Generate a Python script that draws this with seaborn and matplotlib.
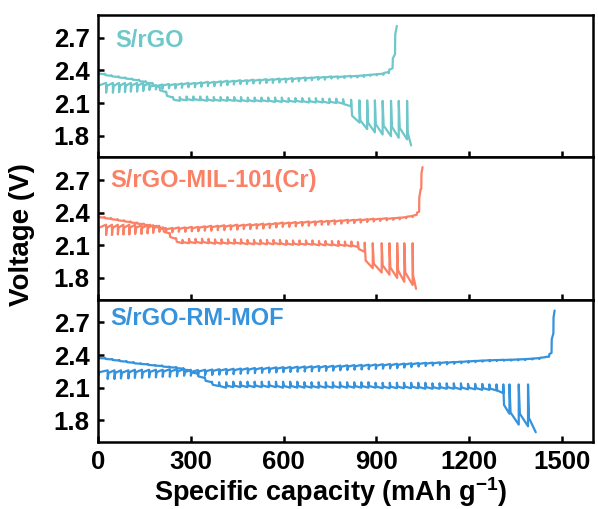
import matplotlib
matplotlib.use("Agg")
import matplotlib.pyplot as plt
import seaborn as sns

# ---------------- data ----------------
samples = ["S/rGO", "S/rGO-MIL-101(Cr)", "S/rGO-RM-MOF"]
colors = ["#6EC8CA", "#FA8066", "#3592DC"]

x_ticks = [0, 300, 600, 900, 1200, 1500]
y_ticks = [1.8, 2.1, 2.4, 2.7]

# ---- S/rGO ----
d1_start = 2.38
d1_cap = [22, 44, 66, 88, 110, 132, 154, 176, 198, 220, 242, 264, 286, 308, 330, 352, 374, 396,
          418, 440, 462, 484, 506, 528, 550, 572, 594, 616, 638, 660, 682, 704, 726, 748, 770,
          792, 818, 845, 870, 895, 920, 947, 972, 999, 1012]
d1_load = [2.365, 2.35, 2.34, 2.33, 2.32, 2.31, 2.295, 2.28, 2.25, 2.20, 2.15, 2.12, 2.125, 2.125,
           2.125, 2.12, 2.12, 2.12, 2.12, 2.12, 2.115, 2.115, 2.115, 2.115, 2.115, 2.11, 2.11, 2.11,
           2.11, 2.11, 2.105, 2.105, 2.105, 2.10, 2.10, 2.095, 2.07, 1.92, 1.86, 1.83, 1.81, 1.795,
           1.78, 1.765, 1.71]
d1_rest = [2.37, 2.355, 2.345, 2.335, 2.325, 2.315, 2.30, 2.285, 2.255, 2.205, 2.155, 2.155, 2.16,
           2.16, 2.16, 2.16, 2.155, 2.155, 2.155, 2.155, 2.155, 2.15, 2.15, 2.15, 2.15, 2.15, 2.15,
           2.145, 2.145, 2.145, 2.145, 2.145, 2.14, 2.14, 2.14, 2.135, 2.13, 2.125, 2.125, 2.125,
           2.12, 2.12, 2.12, 2.12, 1.71]

c1_start = 2.21
c1_cap = [26, 48, 68, 87, 106, 126, 146, 166, 187, 208, 229, 250, 271, 292, 313, 334, 355, 376,
          397, 418, 439, 460, 481, 502, 523, 544, 565, 586, 607, 628, 649, 670, 691, 712, 733, 754,
          775, 796, 817, 838, 859, 880, 901, 922, 940, 952, 960, 966]
c1_load = [2.285, 2.285, 2.285, 2.285, 2.285, 2.285, 2.285, 2.28, 2.265, 2.27, 2.275, 2.275, 2.28,
           2.285, 2.285, 2.29, 2.295, 2.295, 2.30, 2.305, 2.305, 2.31, 2.31, 2.315, 2.315, 2.32,
           2.32, 2.325, 2.325, 2.33, 2.33, 2.335, 2.335, 2.34, 2.34, 2.345, 2.345, 2.345, 2.35,
           2.35, 2.355, 2.36, 2.365, 2.37, 2.385, 2.42, 2.55, 2.81]
c1_rest = [2.195, 2.195, 2.20, 2.20, 2.205, 2.205, 2.21, 2.22, 2.225, 2.23, 2.235, 2.235, 2.24,
           2.245, 2.245, 2.25, 2.255, 2.255, 2.26, 2.265, 2.27, 2.275, 2.275, 2.28, 2.28, 2.285,
           2.285, 2.29, 2.29, 2.295, 2.30, 2.305, 2.31, 2.315, 2.315, 2.325, 2.325, 2.33, 2.335,
           2.335, 2.34, 2.35, 2.355, 2.36, 2.375, 2.42, 2.55, 2.81]

# ---- S/rGO-MIL-101(Cr) ----
d2_start = 2.367
d2_cap = [21, 42, 63, 84, 105, 126, 147, 168, 189, 210, 231, 252, 273, 294, 315, 336, 357, 378,
          399, 420, 441, 462, 483, 504, 525, 546, 567, 588, 609, 630, 651, 672, 693, 714, 735, 756,
          777, 798, 819, 840, 862, 888, 917, 942, 967, 990, 1017, 1028]
d2_load = [2.355, 2.345, 2.335, 2.325, 2.315, 2.305, 2.295, 2.285, 2.275, 2.26, 2.21, 2.16, 2.12,
           2.12, 2.12, 2.12, 2.12, 2.115, 2.115, 2.115, 2.115, 2.115, 2.11, 2.11, 2.11, 2.11, 2.11,
           2.11, 2.105, 2.105, 2.105, 2.105, 2.105, 2.10, 2.10, 2.10, 2.095, 2.095, 2.09, 2.085,
           2.04, 1.89, 1.85, 1.83, 1.80, 1.765, 1.735, 1.70]
d2_rest = [2.36, 2.35, 2.34, 2.33, 2.32, 2.31, 2.30, 2.29, 2.28, 2.265, 2.215, 2.165, 2.15, 2.16,
           2.16, 2.16, 2.16, 2.155, 2.155, 2.155, 2.155, 2.155, 2.15, 2.15, 2.15, 2.15, 2.15, 2.15,
           2.145, 2.145, 2.145, 2.145, 2.145, 2.14, 2.14, 2.14, 2.14, 2.135, 2.135, 2.13, 2.125,
           2.12, 2.12, 2.12, 2.12, 2.12, 2.12, 1.70]

c2_start = 2.20
c2_cap = [26, 45, 64, 82, 101, 120, 140, 160, 178, 198, 219, 240, 261, 282, 303, 324, 345, 366,
          387, 408, 429, 450, 471, 492, 513, 534, 555, 576, 597, 618, 639, 660, 681, 702, 723, 744,
          765, 786, 807, 828, 849, 870, 891, 912, 933, 954, 975, 996, 1017, 1030, 1038, 1042, 1045,
          1049]
c2_load = [2.29, 2.29, 2.29, 2.29, 2.29, 2.29, 2.285, 2.285, 2.285, 2.28, 2.26, 2.26, 2.265, 2.265,
           2.27, 2.27, 2.275, 2.28, 2.28, 2.285, 2.285, 2.29, 2.29, 2.295, 2.295, 2.30, 2.30, 2.305,
           2.31, 2.31, 2.315, 2.315, 2.32, 2.32, 2.325, 2.325, 2.33, 2.33, 2.335, 2.335, 2.34, 2.34,
           2.345, 2.345, 2.35, 2.35, 2.355, 2.36, 2.37, 2.38, 2.41, 2.60, 2.62, 2.82]
c2_rest = [2.195, 2.195, 2.20, 2.20, 2.20, 2.205, 2.205, 2.21, 2.215, 2.225, 2.22, 2.22, 2.225,
           2.225, 2.23, 2.23, 2.235, 2.235, 2.24, 2.24, 2.245, 2.245, 2.25, 2.25, 2.255, 2.255,
           2.26, 2.265, 2.27, 2.27, 2.275, 2.28, 2.28, 2.285, 2.29, 2.29, 2.295, 2.30, 2.305, 2.305,
           2.31, 2.315, 2.32, 2.325, 2.33, 2.335, 2.34, 2.35, 2.36, 2.38, 2.41, 2.60, 2.62, 2.82]

# ---- S/rGO-RM-MOF ----
d3_start = 2.376
d3_cap = [23, 46, 69, 92, 115, 138, 161, 184, 207, 230, 253, 276, 299, 322, 345, 368, 391, 414,
          437, 460, 483, 506, 529, 552, 575, 598, 621, 644, 667, 690, 713, 736, 759, 782, 805, 828,
          851, 874, 897, 920, 943, 966, 989, 1012, 1035, 1058, 1081, 1104, 1127, 1150, 1173, 1196,
          1219, 1242, 1265, 1288, 1310, 1330, 1360, 1390, 1415]
d3_load = [2.37, 2.36, 2.35, 2.34, 2.33, 2.32, 2.315, 2.305, 2.30, 2.29, 2.285, 2.275, 2.26, 2.23,
           2.19, 2.15, 2.115, 2.10, 2.105, 2.105, 2.105, 2.105, 2.105, 2.105, 2.105, 2.10, 2.10,
           2.10, 2.10, 2.10, 2.10, 2.10, 2.10, 2.10, 2.10, 2.10, 2.10, 2.10, 2.10, 2.095, 2.095,
           2.095, 2.095, 2.095, 2.095, 2.09, 2.09, 2.09, 2.09, 2.09, 2.085, 2.085, 2.085, 2.08,
           2.08, 2.075, 2.05, 1.86, 1.76, 1.745, 1.69]
d3_rest = [2.374, 2.364, 2.354, 2.344, 2.334, 2.324, 2.319, 2.309, 2.304, 2.294, 2.289, 2.279,
           2.265, 2.235, 2.195, 2.155, 2.15, 2.15, 2.155, 2.155, 2.155, 2.155, 2.155, 2.155, 2.155,
           2.155, 2.155, 2.155, 2.15, 2.15, 2.15, 2.15, 2.15, 2.15, 2.15, 2.15, 2.15, 2.15, 2.145,
           2.145, 2.145, 2.145, 2.145, 2.145, 2.145, 2.145, 2.14, 2.14, 2.14, 2.14, 2.14, 2.135,
           2.135, 2.135, 2.13, 2.13, 2.13, 2.13, 2.13, 2.13, 1.69]

c3_start = 2.20
c3_cap = [31, 53, 74, 98, 119, 142, 165, 187, 209, 232, 255, 278, 300, 323, 346, 369, 392, 415,
          438, 461, 484, 507, 530, 553, 576, 599, 622, 645, 668, 691, 714, 737, 760, 783, 806, 829,
          852, 875, 898, 921, 944, 967, 990, 1013, 1036, 1059, 1082, 1105, 1128, 1151, 1174, 1197,
          1220, 1243, 1266, 1289, 1312, 1335, 1358, 1381, 1404, 1427, 1445, 1458, 1466, 1472, 1476]
c3_load = [2.26, 2.26, 2.26, 2.26, 2.265, 2.265, 2.265, 2.265, 2.265, 2.27, 2.27, 2.27, 2.26,
           2.262, 2.265, 2.267, 2.27, 2.272, 2.274, 2.276, 2.279, 2.281, 2.283, 2.285, 2.287,
           2.289, 2.291, 2.293, 2.295, 2.297, 2.299, 2.30, 2.302, 2.304, 2.306, 2.308, 2.31, 2.312,
           2.314, 2.316, 2.318, 2.32, 2.322, 2.325, 2.327, 2.329, 2.331, 2.333, 2.335, 2.337, 2.34,
           2.343, 2.347, 2.35, 2.353, 2.355, 2.357, 2.358, 2.36, 2.363, 2.367, 2.372, 2.38, 2.385,
           2.42, 2.60, 2.81]
c3_rest = [2.18, 2.18, 2.185, 2.185, 2.19, 2.19, 2.195, 2.195, 2.20, 2.20, 2.205, 2.21, 2.21,
           2.212, 2.215, 2.217, 2.22, 2.222, 2.225, 2.228, 2.231, 2.234, 2.237, 2.239, 2.241, 2.243,
           2.245, 2.247, 2.249, 2.251, 2.253, 2.255, 2.257, 2.26, 2.263, 2.266, 2.268, 2.27, 2.273,
           2.275, 2.277, 2.28, 2.285, 2.29, 2.295, 2.30, 2.305, 2.31, 2.315, 2.32, 2.325, 2.33,
           2.335, 2.34, 2.343, 2.346, 2.348, 2.35, 2.352, 2.355, 2.36, 2.365, 2.38, 2.385, 2.42,
           2.60, 2.81]

panels = [
    (d1_start, d1_cap, d1_load, d1_rest, c1_start, c1_cap, c1_load, c1_rest),
    (d2_start, d2_cap, d2_load, d2_rest, c2_start, c2_cap, c2_load, c2_rest),
    (d3_start, d3_cap, d3_load, d3_rest, c3_start, c3_cap, c3_load, c3_rest),
]
label_pos = [(0.034, 0.905), (0.024, 0.915), (0.024, 0.95)]


def gitt_path(v0, caps, loads, rests, k=0.12, m=0.3):
    """Pulse (capacity increases) followed by rest (vertical relaxation)."""
    xs, ys = [0.0], [v0]
    pc, pr = 0.0, v0
    for c, l, r in zip(caps, loads, rests):
        xs.append(pc + k * (c - pc)); ys.append(l + m * (pr - l))
        xs.append(c); ys.append(l)
        xs.append(c); ys.append(r)
        pc, pr = c, r
    return xs, ys


# ---------------- figure ----------------
sns.set_theme(style="ticks")
plt.rcParams["font.family"] = ["Liberation Sans", "DejaVu Sans"]
plt.rcParams["font.weight"] = "bold"
plt.rcParams["text.color"] = "black"
plt.rcParams["axes.labelcolor"] = "black"
plt.rcParams["xtick.color"] = "black"
plt.rcParams["ytick.color"] = "black"
plt.rcParams["mathtext.fontset"] = "custom"
plt.rcParams["mathtext.rm"] = "Liberation Sans:bold"
plt.rcParams["mathtext.bf"] = "Liberation Sans:bold"
plt.rcParams["mathtext.default"] = "bf"

fig = plt.figure(figsize=(5.98, 5.09), dpi=100)
axes = fig.subplots(3, 1, sharex=True)
fig.subplots_adjust(left=0.164, right=0.9916, top=0.9705, bottom=0.1316, hspace=0)

for ax, name, col, p, lp in zip(axes, samples, colors, panels, label_pos):
    d0, dc, dl, dr, c0, cc, cl, cr = p
    xs, ys = gitt_path(d0, dc, dl, dr)
    sns.lineplot(x=xs, y=ys, sort=False, estimator=None, color=col, lw=1.6, ax=ax)
    xs, ys = gitt_path(c0, cc, cl, cr)
    sns.lineplot(x=xs, y=ys, sort=False, estimator=None, color=col, lw=1.6, ax=ax)
    ax.set_xlim(0, 1600)
    ax.set_ylim(1.6, 2.91)
    ax.set_yticks(y_ticks)
    ax.set_yticklabels([f"{t:.1f}" for t in y_ticks])
    ax.set_xticks(x_ticks)
    ax.tick_params(axis="both", direction="in", length=4, width=1.8, labelsize=18.5, pad=6,
                   colors="black")
    for lab in ax.get_yticklabels() + ax.get_xticklabels():
        lab.set_fontweight("bold")
    for s in ax.spines.values():
        s.set_visible(True)
        s.set_linewidth(1.8)
        s.set_color("black")
    ax.text(lp[0], lp[1], name, transform=ax.transAxes, color=col, fontsize=17,
            fontweight="bold", ha="left", va="top")
    ax.set_xlabel("")
    ax.set_ylabel("")

axes[-1].set_xticklabels([str(t) for t in x_ticks], fontweight="bold")
axes[-1].set_xlabel("Specific capacity (mAh g$^{-1}$)", fontsize=19.5, fontweight="bold")
axes[-1].xaxis.set_label_coords(0.469, -0.235)
fig.text(0.037, 0.54, "Voltage (V)", rotation=90, fontsize=20, fontweight="bold",
         ha="center", va="center")

fig.savefig("out.png", dpi=100)
